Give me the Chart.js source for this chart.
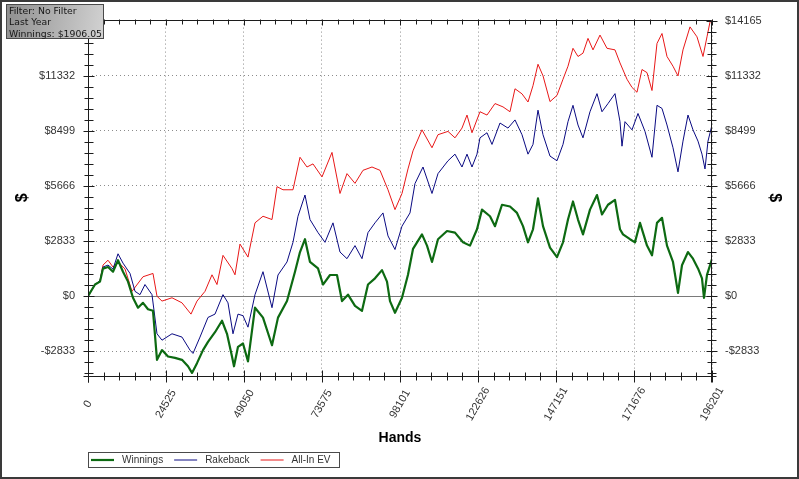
<!DOCTYPE html>
<html>
<head>
<meta charset="utf-8">
<script src="https://cdn.jsdelivr.net/npm/chart.js@4.4.0/dist/chart.umd.min.js"></script>
<style>
  html, body { margin: 0; padding: 0; background: #fff; }
  #wrap { position: relative; width: 799px; height: 479px; }
  #frame { position: absolute; left: 0; top: 0; width: 799px; height: 479px; box-sizing: border-box; border: 2px solid #3a3a3a; pointer-events: none; }
  #filter { position: absolute; left: 6px; top: 4px; width: 98px; height: 35px; box-sizing: border-box; border: 1px solid #4a4a4a;
            background: linear-gradient(100deg, #8f8f8f 0%, #b4b4b4 55%, #d2d2d2 100%);
            font: 9.3px "DejaVu Sans", sans-serif; color: #161616; line-height: 11.3px; padding: 0 0 0 2px; white-space: nowrap; }
</style>
</head>
<body>
<div id="wrap">
  <canvas id="chart" width="799" height="479"></canvas>
  <div id="filter">Filter: No Filter<br>Last Year<br>Winnings: $1906.05</div>
  <div id="frame"></div>
</div>
<script>
// x axis ticks (hands) and y axis ticks ($)
const xTickVals = [0, 24525, 49050, 73575, 98101, 122626, 147151, 171676, 196201];
const yTickVals = [-2833, 0, 2833, 5666, 8499, 11332, 14165];
const yMin = -4100, yMax = 14215;

// Winnings (green)
const winHands = [0, 2201, 3773, 4716, 6288, 7860, 9433, 11005, 12577, 14149,
  15721, 17293, 18865, 20437, 21695, 23267, 25154, 27355, 29555, 31442,
  32700, 34272, 36158, 37730, 39931, 42132, 43704, 45276, 45905, 47163,
  48735, 50307, 52508, 55024, 57853, 59740, 62570, 65085, 66657, 68229,
  69801, 72317, 73889, 76090, 78291, 79863, 81749, 83950, 86151, 88038,
  90239, 92439, 94012, 94955, 96527, 98728, 100614, 102187, 105016, 106588,
  108160, 110047, 112877, 115392, 117908, 120108, 122309, 123881, 126397, 127969,
  130170, 132685, 134886, 136773, 138345, 139917, 141489, 143061, 145262, 147463,
  149350, 150922, 152494, 154066, 155638, 157839, 160040, 161612, 163498, 165699,
  167271, 168215, 170416, 171988, 173560, 175761, 177333, 178905, 180477, 182049,
  183936, 185508, 186765, 188652, 190224, 191796, 193054, 193683, 194626, 196201];
const winVals = [0, 600, 750, 1420, 1500, 1260, 1850, 1260, 750, -80,
  -590, -340, -670, -750, -3270, -2770, -3100, -3170, -3270, -3600,
  -3940, -3440, -2770, -2350, -1850, -1260, -1930, -3100, -3600, -2600,
  -2430, -3350, -590, -1100, -2520, -1100, -250, 1260, 2270, 2930,
  1760, 1430, 600, 1090, 1090, -250, 80, -500, -750, 600,
  920, 1340, 750, -250, -850, -80, 1100, 2430, 3180, 2600,
  1760, 2930, 3350, 3270, 2770, 2600, 3440, 4450, 4110, 3600,
  4700, 4610, 4280, 3600, 2770, 3440, 5030, 3600, 2500, 2010,
  2770, 3940, 4870, 3940, 3180, 4450, 5200, 4200, 4700, 4950,
  3440, 3180, 2930, 2770, 3770, 2600, 2100, 3770, 4030, 2600,
  1760, 170, 1590, 2270, 1930, 1430, 920, -80, 1100, 1906];

// Rakeback (navy)
const rakeHands = [0, 2201, 3773, 4716, 6288, 7860, 9433, 11005, 13206, 14778,
  16350, 17922, 20123, 21695, 23267, 26411, 29555, 32071, 33014, 35215,
  37730, 39931, 42447, 44019, 45591, 47163, 48735, 50307, 52508, 55024,
  57853, 59740, 62570, 64456, 66028, 68229, 69801, 72317, 74518, 77033,
  79234, 81435, 83950, 86151, 88038, 90239, 92754, 94326, 96527, 98728,
  101243, 102815, 105331, 108160, 110047, 113191, 115392, 117593, 119165, 120737,
  122309, 123253, 125454, 127026, 129541, 132056, 134257, 136458, 138345, 139917,
  141489, 143061, 145262, 147463, 149350, 150922, 152494, 154066, 155638, 157839,
  160040, 161612, 163498, 165699, 167271, 167900, 168843, 171044, 172931, 175132,
  177333, 178905, 180477, 182049, 183936, 185508, 187080, 188652, 190224, 191796,
  193054, 193997, 194940, 196201];
const rakeVals = [0, 600, 800, 1500, 1600, 1400, 2180, 1700, 1170, 250,
  80, 600, 80, -1930, -2260, -1930, -2100, -2770, -2940, -2100,
  -1090, -920, 80, -340, -1930, -920, -1000, -1590, 80, 1260,
  -590, 1090, 1760, 2770, 4110, 5200, 3940, 3270, 2770, 3770,
  2270, 1930, 2600, 1930, 3270, 3770, 4280, 3100, 2400, 3600,
  4280, 5790, 6640, 5280, 6300, 6960, 7300, 6640, 7300, 6640,
  7300, 8140, 8400, 7800, 8900, 8640, 9060, 8300, 7300, 7800,
  9560, 8300, 7200, 6960, 7800, 8970, 9810, 8800, 8140, 9480,
  10410, 9480, 9900, 10410, 8970, 7710, 8970, 8550, 9390, 8470,
  7140, 9810, 9650, 8800, 7630, 6390, 7970, 9310, 8550, 7970,
  7300, 6540, 7970, 8800];

// All-In EV (red)
const evHands = [0, 2201, 3773, 4716, 6288, 7860, 9433, 11634, 13834, 17293,
  20437, 21695, 23267, 26411, 29555, 32385, 34272, 36787, 38988, 40560,
  42447, 45276, 46220, 47792, 50307, 52508, 55024, 57853, 59425, 61312,
  64456, 66657, 68858, 70745, 73574, 76718, 79234, 81435, 83950, 86466,
  89295, 91811, 94326, 96527, 98728, 100614, 102187, 105016, 108160, 110047,
  113191, 115392, 117593, 119165, 120737, 123253, 125454, 127969, 130484, 132685,
  134257, 136458, 138345, 139917, 141489, 143061, 145262, 147463, 149350, 150922,
  152494, 154066, 155638, 157210, 158782, 160983, 163184, 165699, 167271, 169472,
  171044, 172617, 174189, 175761, 177333, 178905, 180477, 182049, 183936, 185508,
  187080, 189281, 191482, 193368, 194626, 195569, 196201];
const evVals = [0, 600, 800, 1600, 1850, 1500, 1770, 1400, 250, 1000,
  1170, 0, -250, -80, -340, -920, -250, 250, 1100, 600,
  2100, 1420, 1100, 2680, 2010, 3770, 4110, 3940, 5630, 5470,
  5470, 7140, 6640, 6800, 6130, 7390, 5280, 6300, 5800, 6470,
  6640, 6470, 5470, 4450, 5280, 6540, 7470, 8550, 7630, 8300,
  8470, 8140, 8640, 9310, 8400, 9480, 9310, 9900, 9730, 9480,
  10660, 10400, 9980, 10820, 11920, 11330, 10000, 10320, 11150, 11820,
  12740, 12320, 12490, 13250, 12660, 13420, 12740, 12660, 11990, 11150,
  10730, 10480, 11650, 11490, 10570, 12990, 13500, 12320, 11820, 11320,
  12660, 13840, 13330, 12320, 13330, 14090, 14165];

const seriesNames = ['Winnings', 'Rakeback', 'All-In EV'];
const seriesColors = ['#0d6a12', '#0a0a82', '#e81818'];

function pts(xs, ys) { return xs.map((x, i) => ({ x: x, y: ys[i] })); }

const tickFont = { family: '"Liberation Sans", Arial, sans-serif', size: 11 };

function gridColor(c) { return (c.tick && c.tick.value === 0) ? '#7a7a7a' : '#8c8c8c'; }
function gridDash(c) { return (c.tick && c.tick.value === 0) ? [] : [1, 3]; }

// sub-divide the major ticks into 5 parts for the small tick marks
function minorValues(majors, lo, hi) {
  const out = [];
  const step = (majors[1] - majors[0]) / 5;
  for (let v = majors[0] - step; v >= lo; v -= step) out.push(v);
  for (let i = 0; i < majors.length - 1; i++) {
    const s = (majors[i + 1] - majors[i]) / 5;
    for (let k = 1; k < 5; k++) out.push(majors[i] + s * k);
  }
  for (let v = majors[majors.length - 1] + step; v <= hi; v += step) out.push(v);
  return out;
}

const axesPlugin = {
  id: 'axesPlugin',
  afterDraw(chart) {
    const { ctx, chartArea: a, scales } = chart;
    const xs = scales.x, ys = scales.y;
    const L = Math.round(a.left) + 0.5, R = Math.round(a.right) - 0.5;
    const T = Math.round(a.top) + 0.5, B = Math.round(a.bottom) + 0.5;
    ctx.save();
    ctx.strokeStyle = '#1c1c1c';
    ctx.lineWidth = 1;
    ctx.beginPath();
    ctx.moveTo(L, T); ctx.lineTo(R, T); ctx.lineTo(R, B + 6);
    ctx.moveTo(L, T); ctx.lineTo(L, B + 6);
    ctx.moveTo(L - 5, B); ctx.lineTo(R + 5, B);
    ctx.stroke();

    ctx.beginPath();
    // x ticks
    xTickVals.forEach(v => {
      const p = Math.round(xs.getPixelForValue(v)) + 0.5;
      ctx.moveTo(p, B - 6); ctx.lineTo(p, B + 6);
      ctx.moveTo(p, T - 1); ctx.lineTo(p, T + 5);
    });
    minorValues(xTickVals, 0, 196201).forEach(v => {
      const p = Math.round(xs.getPixelForValue(v)) + 0.5;
      ctx.moveTo(p, B - 4); ctx.lineTo(p, B + 4);
      ctx.moveTo(p, T - 1); ctx.lineTo(p, T + 4);
    });
    // y ticks
    yTickVals.forEach(v => {
      const p = Math.round(ys.getPixelForValue(v)) + 0.5;
      ctx.moveTo(L - 5, p); ctx.lineTo(L + 6, p);
      ctx.moveTo(R - 5, p); ctx.lineTo(R + 6, p);
    });
    minorValues(yTickVals, yMin, yMax).forEach(v => {
      const p = Math.round(ys.getPixelForValue(v)) + 0.5;
      ctx.moveTo(L - 4, p); ctx.lineTo(L + 5, p);
      ctx.moveTo(R - 4, p); ctx.lineTo(R + 5, p);
    });
    ctx.stroke();

    // rotated x labels, centred under each tick
    ctx.fillStyle = '#333';
    ctx.font = '11px "Liberation Sans", Arial, sans-serif';
    ctx.textAlign = 'center';
    ctx.textBaseline = 'middle';
    xs.ticks.forEach(t => {
      const p = xs.getPixelForValue(t.value);
      ctx.save();
      ctx.translate(p, 404);
      ctx.rotate(-Math.PI / 3);
      ctx.fillText(String(t.value), 0, 0);
      ctx.restore();
    });

    // legend box
    ctx.strokeStyle = '#4a4a4a';
    ctx.strokeRect(88.5, 452.5, 251, 15);
    ctx.font = '10px "Liberation Sans", Arial, sans-serif';
    ctx.textAlign = 'left';
    let x = 91;
    chart.data.datasets.forEach(ds => {
      ctx.beginPath();
      ctx.strokeStyle = ds.borderColor;
      ctx.lineWidth = ds.borderWidth;
      ctx.moveTo(x, 460); ctx.lineTo(x + 23, 460);
      ctx.stroke();
      ctx.fillStyle = '#333';
      ctx.fillText(ds.label, x + 31, 460.5);
      x = x + 31 + ctx.measureText(ds.label).width + 11;
    });
    ctx.restore();
  }
};

new Chart(document.getElementById('chart'), {
  type: 'line',
  data: {
    datasets: [
      { label: seriesNames[0], data: pts(winHands, winVals), borderColor: seriesColors[0], borderWidth: 2.2 },
      { label: seriesNames[1], data: pts(rakeHands, rakeVals), borderColor: seriesColors[1], borderWidth: 1 },
      { label: seriesNames[2], data: pts(evHands, evVals), borderColor: seriesColors[2], borderWidth: 1 }
    ]
  },
  options: {
    responsive: false,
    devicePixelRatio: 1,
    animation: false,
    layout: { padding: { top: 12, bottom: 32, left: 0, right: 0 } },
    elements: { point: { radius: 0 }, line: { tension: 0, borderJoinStyle: 'round', fill: false } },
    plugins: { legend: { display: false }, tooltip: { enabled: false } },
    scales: {
      x: {
        type: 'linear', min: 0, max: 196201,
        afterBuildTicks: s => { s.ticks = xTickVals.map(v => ({ value: v })); },
        afterFit: s => { s.height = 71; },
        ticks: { display: false },
        grid: { drawTicks: false, color: '#8c8c8c' },
        border: { display: false, dash: [1, 3] },
        title: { display: true, text: 'Hands', color: '#000', padding: { top: 0, bottom: 0 },
                 font: { family: '"Liberation Sans", Arial, sans-serif', size: 14, weight: 'bold' } }
      },
      y: {
        type: 'linear', position: 'left', min: yMin, max: yMax,
        afterBuildTicks: s => { s.ticks = yTickVals.map(v => ({ value: v })); },
        afterFit: s => { s.width = 88; },
        ticks: { padding: 13, color: '#333', font: tickFont, autoSkip: false,
                 callback: v => (v < 0 ? '-$' : '$') + Math.abs(v) },
        grid: { drawTicks: false, color: gridColor },
        border: { display: false, dash: gridDash },
        title: { display: true, text: '$', color: '#000', padding: { top: 13, bottom: 0 },
                 font: { family: '"Liberation Sans", Arial, sans-serif', size: 16, weight: 'bold' } }
      },
      y2: {
        type: 'linear', position: 'right', min: yMin, max: yMax,
        afterBuildTicks: s => { s.ticks = yTickVals.map(v => ({ value: v })); },
        afterFit: s => { s.width = 87; },
        ticks: { padding: 13, color: '#333', font: tickFont, autoSkip: false,
                 callback: v => (v < 0 ? '-$' : '$') + Math.abs(v) },
        grid: { drawTicks: false, drawOnChartArea: false },
        border: { display: false },
        title: { display: true, text: '$', color: '#000', padding: { top: 15, bottom: 0 },
                 font: { family: '"Liberation Sans", Arial, sans-serif', size: 16, weight: 'bold' } }
      }
    }
  },
  plugins: [axesPlugin]
});
</script>
</body>
</html>
